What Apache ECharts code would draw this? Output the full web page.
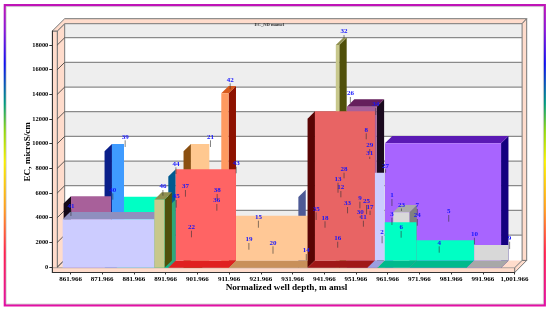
<!DOCTYPE html>
<html><head><meta charset="utf-8">
<style>html,body{margin:0;padding:0;background:#fff}#c{width:550px;height:311px}</style>
<script src="https://cdn.jsdelivr.net/npm/echarts@6/dist/echarts.min.js"></script>
</head><body><div id="c"></div>
<script>
// Tick labels
const xTicks=[861.966,871.966,881.966,891.966,901.966,911.966,921.966,931.966,941.966,951.966,961.966,971.966,981.966,991.966,1001.966];
const xTickLabels=['861.966','871.966','881.966','891.966','901.966','911.966','921.966','931.966','941.966','951.966','961.966','971.966','981.966','991.966','1,001.966'];
const yTicks=[0,2000,4000,6000,8000,10000,12000,14000,16000,18000];
// Bars, back to front: depth range and EC
const barKind =['open','open','open','box','box','box','box','open','open','open','box','open','side','open','open','open','open','open','box','box'];
const barStart=[876.5,872.7,897.6,909.5,945.6,949.1,961.1,933.8,911.8,859.8,963.7,892.8,892.7,936.7,955.6,958.7,968.7,986.9,859.5,888.4];
const barEnd  =[892.7,876.5,903.4,911.8,946.7,958.5,997.7,933.8,936.5,872.4,968.8,911.8,892.7,955.6,958.6,968.7,986.9,997.7,888.4,891.6];
const barEC   =[5110,9380,9380,14080,18000,13000,10030,5680,3570,5140,4430,7330,4860,12030,7050,3030,1570,1190,3870,5460];
// Numbered sample points: depth, EC at the stem foot, EC at the stem head
const ptLabel=['1','2','3','4','5','6','7','8','9','10','11','12','13','14','15','16','17','18','19','20','21','22','23','24','25','26','27','28','29','30','31','32','33','34','35','36','37','38','39','40','41','42','43','44','45','46','9'];
const ptDepth=[963.3,960.2,963.3,978.2,981.2,966.2,971.3,955.2,953.2,989.3,954.3,947.2,946.3,936.3,921.2,946.2,956.4,942.2,918.2,925.8,906.1,900.1,966.3,971.3,955.3,950.2,961.3,948.2,956.3,953.3,956.3,948.2,949.3,958.2,939.4,908.1,898.2,908.2,879.2,875.3,862.1,912.3,914.2,895.2,895.3,891.1,1000.4];
const ptFoot =[4946,1922,3405,1159,3673,2376,4216,10354,4759,1841,3267,5651,6024,511,3186,1565,4216,3186,1403,1078,9730,2408,4540,3349,4273,13297,7646,7192,9267,3973,8757,18567,4354,12324,3811,4565,5700,5489,9730,5457,4135,14408,7597,7540,4808,5781,1459];
const ptHead =[5513,2513,3997,1678,4216,2919,4703,10840,5295,2376,3754,6162,6835,1054,3754,2051,4565,3705,1946,1678,10273,2943,4743,3892,5027,13784,7921,7646,9567,4135,8943,18811,4865,12892,4435,5108,6243,5919,10273,5976,4678,14894,8132,8084,5432,6243,2051];

// Palette, parallel to the bar arrays
const faceCol=['#00ffc4','#3f9bff','#ffc890','#ff9a60','#c8c88c','#a8609a','#a864ff','#4d5a96','#ffc896','#a8609a','#d8d8d8','#ff6464','#2fa878','#e86464','#ccccff','#00ffc4','#00ffc4','#d8d8d8','#ccccff','#c8c88c'];
const topCol =[null,null,null,'#d85a1c','#8f8f50','#651f5c','#5a1ab4',null,null,null,'#aaaaaa',null,null,null,null,null,null,null,'#8f8fbf','#8f8f50'];
const sideCol=[null,'#0a1f8a','#8a4f10','#8e1200','#50500a','#1a0a1e','#14007f','#4d5a96',null,'#150818','#808080','#005a90',null,'#5a0404',null,null,null,null,'#8f8fbf','#50500a'];
const floorCol=['#00ba8c','#0a1f8a','#8a4f10',null,null,null,null,'#4d5a96','#c8905a','#a8609a',null,'#e02020',null,'#a01818','#9a9fe0','#00ba8c','#00ba8c','#a8a8a8',null,null];

const DX=7.4, DY=7.3;          // pixel shift of the depth direction
const BASE=-60;                // EC of the floor line
const SERIF='"Liberation Serif","DejaVu Serif",serif';
const pink='#ffdccc', wire='#777';
const X0=857.8,X1=1002,YTOP=19135,YBOT=-446;

const chart=echarts.init(document.getElementById('c'),null,{renderer:'canvas'});
function projector(api){return (x,y,k)=>{const c=api.coord([x,y]);return [c[0]+k*DX,c[1]-k*DY];};}
function poly(points,fill,stroke,lw){return {type:'polygon',shape:{points},style:{fill,stroke:stroke||null,lineWidth:stroke?(lw||1):0}};}

function renderWalls(params,api){
  const p=projector(api),ch=[];
  const axisLeft=api.coord([856.228,0])[0];
  const backTop=19135;
  // grey/white bands of the back wall
  const bands=[BASE,2000,4000,6000,8000,10000,12000,14000,16000,18000,backTop];
  const topY=p(X0,backTop,1)[1];
  for(let i=0;i<bands.length-1;i++){
    const a=p(X0,bands[i],1),b=p(X1,bands[i+1],1);
    const ty=i===bands.length-2?topY:b[1];
    ch.push({type:'rect',shape:{x:a[0],y:ty,width:b[0]-a[0],height:a[1]-ty},style:{fill:i%2===1?'#eeeeee':'#ffffff'}});
  }
  const fl=p(X0,BASE,1),fr=p(X1,BASE,1),tl=p(X0,backTop,1),tr=p(X1,backTop,1);
  const ffl=p(X0,BASE,0),ffr=p(X1,BASE,0);
  const botY=api.coord([X0,YBOT])[1], gridTop=api.coord([X0,YTOP])[1];
  // left wall
  ch.push(poly([[ffl[0],gridTop],tl,fl,ffl],pink,wire,1));
  // left front strip
  ch.push(poly([[axisLeft,gridTop],[ffl[0],gridTop],[ffl[0],botY],[axisLeft,botY]],pink,wire,1));
  // top band + its slanted end
  ch.push(poly([[axisLeft,gridTop],[tl[0],tl[1]-5],[tr[0]+4.6,tr[1]-5],tr,tl,[ffl[0],gridTop]],pink,wire,1));
  // right strip
  ch.push(poly([tr,[tr[0]+4.6,tr[1]-5],[fr[0]+4.6,fr[1]],fr],pink,wire,1));
  // floor
  ch.push(poly([ffl,fl,fr,ffr],pink,null));
  ch.push(poly([[axisLeft,ffl[1]],[ffr[0],ffr[1]],[ffr[0],botY],[axisLeft,botY]],pink,wire,.6));
  ch.push(poly([ffr,fr,[fr[0]+4.6,fr[1]],[ffr[0],botY]],pink,wire,1));
  // grid lines
  yTicks.forEach(v=>{
    const a=p(X0,v,0),b=p(X0,v,1),c=p(X1,v,1);
    if(v>0){ch.push({type:'line',shape:{x1:b[0],y1:b[1],x2:c[0],y2:c[1]},style:{stroke:'#8a8a8a',lineWidth:1.2}});}
    ch.push({type:'line',shape:{x1:a[0],y1:a[1],x2:b[0],y2:b[1]},style:{stroke:'#333',lineWidth:.8}});
  });
  ch.push({type:'text',style:{x:(tl[0]+tr[0])/2-24,y:tl[1]+1,text:'EC_ND mamel',fill:'#333',font:'bold 4.6px '+SERIF,align:'center',verticalAlign:'middle'}});
  return {type:'group',children:ch};
}

function renderBar(params,api){
  const i=params.dataIndex,p=projector(api);
  const x0=barStart[i],x1=barEnd[i],t=barEC[i],ch=[];
  const kind=barKind[i];
  if(kind==='box'){
    ch.push(poly([p(x1,t,0),p(x1,t,1),p(x1,BASE,1),p(x1,BASE,0)],sideCol[i]));
    ch.push(poly([p(x0,t,0),p(x0,t,1),p(x1,t,1),p(x1,t,0)],topCol[i]));
    ch.push(poly([p(x0,t,0),p(x1,t,0),p(x1,BASE,0),p(x0,BASE,0)],faceCol[i]));
  }else if(kind==='open'){
    if(sideCol[i])ch.push(poly([p(x0,t,0),p(x0,t,1),p(x0,BASE,1),p(x0,BASE,0)],sideCol[i]));
    if(floorCol[i])ch.push(poly([p(x0,BASE,0),p(x0,BASE,1),p(x1,BASE,1),p(x1,BASE,0)],floorCol[i]));
    if(x1>x0)ch.push(poly([p(x0,t,1),p(x1,t,1),p(x1,BASE,1),p(x0,BASE,1)],faceCol[i]));
  }else{
    ch.push(poly([p(x1,t,0),p(x1,t,1),p(x1,BASE,1),p(x1,BASE,0)],faceCol[i]));
  }
  return {type:'group',children:ch};
}

function renderPoint(params,api){
  const i=params.dataIndex;
  const a=api.coord([ptDepth[i],ptFoot[i]]),b=api.coord([ptDepth[i],ptHead[i]]);
  return {type:'group',children:[
    {type:'line',shape:{x1:a[0],y1:a[1],x2:b[0],y2:b[1]},style:{stroke:'rgba(50,50,50,0.6)',lineWidth:1}},
    {type:'text',style:{x:b[0],y:b[1]-3.4,text:ptLabel[i],fill:'#1414ff',font:'bold 7px '+SERIF,align:'center',verticalAlign:'middle'}}
  ]};
}

chart.setOption({
  animation:false,
  backgroundColor:'#fff',
  grid:{left:52.3,right:35.3,top:31,bottom:38.5,containLabel:false},
  xAxis:{type:'value',min:856.228,max:1002,z:5,
    name:'Normalized well depth, m amsl',nameLocation:'middle',nameGap:15.5,nameMoveOverlap:false,
    nameTextStyle:{fontFamily:SERIF,fontWeight:'bold',fontSize:9.2,color:'#000',padding:[0,0,0,6],verticalAlign:'middle'},
    axisLine:{show:true,onZero:false,lineStyle:{color:'#333',width:1}},
    axisTick:{show:true,length:2,customValues:xTicks,lineStyle:{color:'#333'}},
    axisLabel:{customValues:xTicks,margin:3,fontFamily:SERIF,fontWeight:'bold',fontSize:7,color:'#000',
      formatter:v=>{const k=xTicks.findIndex(t=>Math.abs(t-v)<1e-6);return k>=0?xTickLabels[k]:'';}},
    splitLine:{show:false}},
  yAxis:{type:'value',min:YBOT,max:YTOP,z:5,
    name:'EC, microS/cm',nameLocation:'middle',nameGap:25,nameMoveOverlap:false,
    nameTextStyle:{fontFamily:SERIF,fontWeight:'bold',fontSize:9.2,color:'#000',verticalAlign:'middle'},
    axisLine:{show:true,onZero:false,lineStyle:{color:'#333',width:1}},
    axisTick:{show:true,length:3,customValues:yTicks,lineStyle:{color:'#333'}},
    axisLabel:{customValues:yTicks,margin:4,fontFamily:SERIF,fontWeight:'bold',fontSize:6.4,color:'#000',formatter:v=>String(v)},
    splitLine:{show:false}},
  graphic:[
    {type:'rect',silent:true,z:0,shape:{x:4.8,y:5.2,width:540,height:300.2},
     style:{fill:'none',lineWidth:2.2,stroke:{type:'linear',x:0,y:0,x2:0,y2:1,colorStops:[
       {offset:0,color:'#c414b4'},{offset:.09,color:'#8a14d8'},{offset:.2,color:'#1010f0'},{offset:.33,color:'#009a80'},{offset:.42,color:'#90d810'},{offset:.52,color:'#f8f000'},{offset:.68,color:'#ff9a20'},{offset:.82,color:'#ff2050'},{offset:1,color:'#e010a8'}]}}},
    {type:'rect',silent:true,z:0,shape:{x:6.2,y:6.6,width:537.2,height:297.4},style:{fill:'none',lineWidth:.6,stroke:'#b8b8b8'}}
  ],
  series:[
    {type:'custom',z:1,clip:false,silent:true,data:[[X0,0]],renderItem:renderWalls,encode:{x:0,y:1}},
    {type:'custom',z:2,clip:false,silent:true,data:barStart.map((d,i)=>[d,barEC[i]]),renderItem:renderBar,encode:{x:0,y:1}},
    {type:'custom',z:3,clip:false,silent:true,data:ptDepth.map((d,i)=>[d,ptFoot[i]]),renderItem:renderPoint,encode:{x:0,y:1}}
  ]
});
</script></body></html>
